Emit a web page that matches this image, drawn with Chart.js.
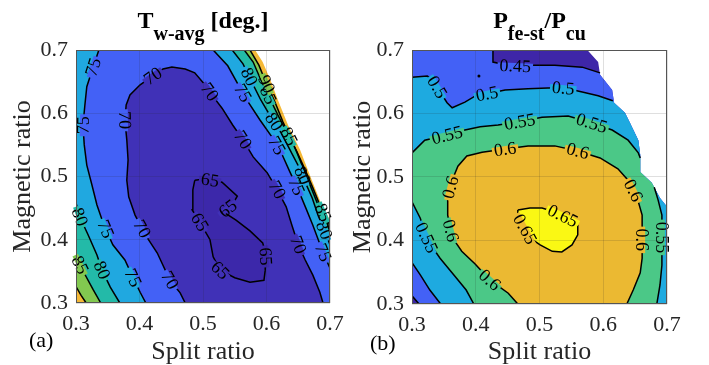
<!DOCTYPE html>
<html>
<head>
<meta charset="utf-8">
<script src="https://cdn.jsdelivr.net/npm/chart.js@4.4.1/dist/chart.umd.min.js"></script>
<style>
  html, body { margin: 0; padding: 0; background: #fff; }
  #wrap { position: relative; width: 709px; height: 365px; overflow: hidden; font-family: 'Liberation Serif', 'Times New Roman', serif; }
  canvas { position: absolute; top: 0; }
  #cA { left: 0; }
  #cB { left: 336px; }
  .ttl { position: absolute; top: 8px; font-size: 24px; line-height: 24px; font-weight: bold; text-align: center; color: #000; white-space: nowrap; }
  .ttl sub { font-size: 20px; position: relative; top: 12px; vertical-align: baseline; line-height: 0; }
  .tag { position: absolute; font-size: 22px; line-height: 22px; color: #000; }
</style>
</head>
<body>
<div id="wrap">
  <canvas id="cA" width="355" height="365"></canvas>
  <canvas id="cB" width="373" height="365"></canvas>
  <div class="ttl" style="left:76px;width:254px">T<sub>w-avg</sub> [deg.]</div>
  <div class="ttl" style="left:412px;width:255px">P<sub>fe-st</sub>/P<sub>cu</sub></div>
  <div class="tag" style="left:29px;top:329px">(a)</div>
  <div class="tag" style="left:370px;top:332px">(b)</div>
</div>
<script>
// axes
const xTicks = [0.3, 0.4, 0.5, 0.6, 0.7];
const yTicks = [0.3, 0.4, 0.5, 0.6, 0.7];
const tickLabels = ['0.3', '0.4', '0.5', '0.6', '0.7'];

// (a) winding temperature, contour lines as [split ratio, magnetic ratio]
const aEdge = [[0.582,0.7],[0.594,0.681],[0.606,0.653],[0.618,0.621],[0.634,0.581],[0.653,0.542],[0.673,0.49],[0.687,0.455],[0.7,0.431]];
const a90R = [[0.574,0.7],[0.588,0.676],[0.599,0.649],[0.612,0.621],[0.626,0.586],[0.645,0.545],[0.664,0.498],[0.680,0.458],[0.692,0.436],[0.7,0.423]];
const a85R = [[0.565,0.7],[0.579,0.681],[0.591,0.653],[0.604,0.626],[0.618,0.597],[0.634,0.566],[0.648,0.539],[0.661,0.51],[0.673,0.482],[0.684,0.455],[0.694,0.431],[0.7,0.412]];
const a80R = [[0.546,0.7],[0.563,0.678],[0.577,0.649],[0.591,0.621],[0.607,0.594],[0.623,0.569],[0.637,0.542],[0.650,0.517],[0.661,0.491],[0.672,0.466],[0.681,0.439],[0.691,0.415],[0.7,0.392]];
const a75R = [[0.516,0.7],[0.539,0.675],[0.555,0.646],[0.571,0.618],[0.590,0.589],[0.609,0.562],[0.624,0.536],[0.637,0.507],[0.650,0.479],[0.662,0.45],[0.673,0.423],[0.683,0.396],[0.692,0.373],[0.7,0.355]];
const a70 = [[0.472,0.3],[0.464,0.316],[0.448,0.336],[0.428,0.379],[0.409,0.408],[0.393,0.439],[0.383,0.468],[0.380,0.494],[0.382,0.526],[0.380,0.558],[0.377,0.589],[0.379,0.613],[0.385,0.629],[0.401,0.645],[0.421,0.659],[0.437,0.67],[0.451,0.673],[0.472,0.67],[0.487,0.664],[0.503,0.645],[0.514,0.629],[0.530,0.608],[0.547,0.581],[0.563,0.558],[0.579,0.531],[0.601,0.506],[0.617,0.479],[0.631,0.452],[0.640,0.423],[0.650,0.392],[0.661,0.368],[0.673,0.344],[0.684,0.317],[0.689,0.3]];
const a65 = [[0.487,0.494],[0.503,0.496],[0.530,0.491],[0.554,0.469],[0.546,0.455],[0.532,0.444],[0.552,0.431],[0.574,0.414],[0.594,0.395],[0.599,0.376],[0.598,0.352],[0.596,0.336],[0.574,0.333],[0.550,0.34],[0.527,0.352],[0.516,0.373],[0.511,0.4],[0.495,0.428],[0.483,0.447],[0.484,0.479],[0.487,0.494]];
const a75L = [[0.336,0.7],[0.327,0.673],[0.317,0.642],[0.314,0.613],[0.311,0.581],[0.313,0.55],[0.317,0.518],[0.325,0.487],[0.333,0.455],[0.344,0.423],[0.358,0.392],[0.377,0.368],[0.390,0.34],[0.401,0.317],[0.410,0.3]];
const a80L = [[0.3,0.458],[0.306,0.436],[0.319,0.408],[0.333,0.376],[0.341,0.352],[0.354,0.325],[0.369,0.3]];
const a85L = [[0.3,0.373],[0.313,0.347],[0.327,0.321],[0.339,0.3]];
const a90L = [[0.3,0.326],[0.308,0.312],[0.316,0.3]];

// (b) loss ratio
const bEdge = [[0.575,0.7],[0.592,0.681],[0.595,0.661],[0.614,0.637],[0.617,0.617],[0.634,0.601],[0.642,0.585],[0.655,0.558],[0.658,0.535],[0.658,0.508],[0.676,0.491],[0.689,0.467],[0.7,0.453]];
const b45T = [[0.427,0.7],[0.427,0.681],[0.441,0.678],[0.462,0.675],[0.488,0.676],[0.524,0.676],[0.567,0.673],[0.595,0.664]];
const b45L = [[0.3,0.313],[0.311,0.3]];
const b50T = [[0.3,0.657],[0.324,0.659],[0.333,0.653],[0.344,0.634],[0.355,0.617],[0.363,0.609],[0.383,0.618],[0.400,0.628],[0.422,0.632],[0.446,0.637],[0.482,0.639],[0.513,0.64],[0.540,0.64],[0.567,0.634],[0.592,0.628],[0.615,0.62]];
const b50L = [[0.3,0.365],[0.313,0.346],[0.328,0.322],[0.345,0.3]];
const b55T = [[0.3,0.538],[0.320,0.558],[0.355,0.566],[0.383,0.574],[0.407,0.579],[0.435,0.582],[0.469,0.587],[0.504,0.594],[0.545,0.596],[0.582,0.585],[0.614,0.574],[0.639,0.558],[0.655,0.538],[0.658,0.53]];
const b55R = [[0.680,0.484],[0.686,0.464],[0.692,0.44],[0.692,0.401],[0.692,0.361],[0.689,0.33],[0.684,0.3]];
const b55L = [[0.3,0.461],[0.313,0.435],[0.324,0.401],[0.344,0.372],[0.367,0.344],[0.385,0.322],[0.397,0.3]];
const b60 = [[0.466,0.3],[0.451,0.317],[0.422,0.338],[0.399,0.363],[0.378,0.383],[0.363,0.405],[0.356,0.44],[0.356,0.467],[0.363,0.495],[0.372,0.517],[0.386,0.533],[0.410,0.539],[0.446,0.544],[0.482,0.549],[0.524,0.549],[0.560,0.541],[0.595,0.53],[0.623,0.513],[0.639,0.495],[0.653,0.468],[0.661,0.44],[0.661,0.401],[0.661,0.372],[0.658,0.349],[0.647,0.322],[0.637,0.3]];
const b65 = [[0.466,0.448],[0.485,0.451],[0.504,0.451],[0.524,0.445],[0.545,0.435],[0.560,0.424],[0.560,0.409],[0.551,0.393],[0.535,0.382],[0.520,0.383],[0.501,0.393],[0.485,0.404],[0.474,0.424],[0.466,0.44],[0.466,0.448]];
const bDot = [[0.405,0.659]];

// level colours, lowest band first
const colorsA = ['rgb(60,40,170)', 'rgb(64,49,183)', 'rgb(67,97,246)', 'rgb(32,168,224)', 'rgb(35,186,168)', 'rgb(130,200,80)', 'rgb(245,185,55)'];
const colorsB = ['rgb(62,38,168)', 'rgb(67,97,246)', 'rgb(30,170,224)', 'rgb(75,200,135)', 'rgb(235,185,50)', 'rgb(250,248,20)'];

const F = "'Liberation Serif', 'Times New Roman', serif";
const ink = '#262626';

const rev = a => a.slice().reverse();
const toPts = a => a.map(([x, y]) => ({x, y}));
const fillSet = (pts, color) => ({data: toPts(pts), fill: 'shape', backgroundColor: color, borderWidth: 0, pointRadius: 0});
const lineSet = pts => ({data: toPts(pts), fill: false, borderColor: '#000', borderWidth: 1.5, pointRadius: 0});

// contour labels sit on a line; the gap behind them takes the fill colour there
function labelPlugin(items) {
  let bg = [];
  const place = (chart, it) => {
    const xs = chart.scales.x, ys = chart.scales.y, pts = it.line;
    const at = t => {
      t = Math.max(0, Math.min(pts.length - 1, t));
      const i = Math.min(Math.floor(t), pts.length - 2), f = t - i;
      return {
        x: xs.getPixelForValue(pts[i][0] + (pts[i + 1][0] - pts[i][0]) * f),
        y: ys.getPixelForValue(pts[i][1] + (pts[i + 1][1] - pts[i][1]) * f)
      };
    };
    const p = at(it.at), p0 = at(it.at - 0.5), p1 = at(it.at + 0.5);
    let a = Math.atan2(p1.y - p0.y, p1.x - p0.x);
    if (a > Math.PI / 2) a -= Math.PI;
    if (a <= -Math.PI / 2) a += Math.PI;
    return {x: p.x, y: p.y, a};
  };
  return {
    id: 'clabels',
    afterDatasetDraw(chart, args) {
      if (!chart.data.datasets[args.index].lastFill) return;
      const ctx = chart.ctx;
      bg = items.map(it => {
        const p = place(chart, it);
        const d = ctx.getImageData(Math.round(p.x - 3 * Math.sin(p.a)), Math.round(p.y + 3 * Math.cos(p.a)), 1, 1).data;
        return `rgb(${d[0]},${d[1]},${d[2]})`;
      });
    },
    afterDatasetsDraw(chart) {
      const ctx = chart.ctx;
      ctx.save();
      ctx.font = `18px ${F}`;
      ctx.textAlign = 'center';
      ctx.textBaseline = 'middle';
      items.forEach((it, k) => {
        const p = place(chart, it);
        const w = ctx.measureText(it.text).width;
        ctx.save();
        ctx.translate(p.x, p.y);
        ctx.rotate(p.a);
        ctx.fillStyle = bg[k] || '#fff';
        ctx.fillRect(-w / 2 - 2, -3, w + 4, 6);
        ctx.fillStyle = '#000';
        ctx.fillText(it.text, 0, 1);
        ctx.restore();
      });
      ctx.restore();
    }
  };
}

const boxPlugin = {
  id: 'box',
  afterDraw(chart) {
    const {ctx, chartArea: {left, top, right, bottom}} = chart;
    ctx.save();
    ctx.strokeStyle = '#555';
    ctx.lineWidth = 1;
    ctx.strokeRect(left + 0.5, top + 0.5, right - left - 1, bottom - top - 1);
    ctx.restore();
  }
};

function makeChart(id, paint, labels, padRight, xHeight, yTitlePad) {
  const datasets = paint.map((d, i) => Object.assign(d, {order: paint.length - i}));
  return new Chart(document.getElementById(id), {
    type: 'line',
    data: {datasets},
    options: {
      responsive: false,
      animation: false,
      events: [],
      layout: {padding: {top: 50, right: padRight, left: 0, bottom: 0}},
      plugins: {legend: {display: false}, tooltip: {enabled: false}},
      scales: {
        x: {
          type: 'linear', min: 0.3, max: 0.7,
          afterBuildTicks: s => { s.ticks = xTicks.map(v => ({value: v})); },
          afterFit: s => { s.height = xHeight; },
          grid: {color: 'rgba(38,38,38,0.15)', drawTicks: false, z: 1},
          border: {display: false},
          ticks: {padding: 8, color: ink, autoSkip: false, maxRotation: 0, font: {family: F, size: 22}, callback: (v, i) => tickLabels[i]},
          title: {display: true, text: 'Split ratio', color: ink, font: {family: F, size: 26, lineHeight: 1}, padding: {top: 0, bottom: 0}}
        },
        y: {
          type: 'linear', min: 0.3, max: 0.7,
          afterBuildTicks: s => { s.ticks = yTicks.map(v => ({value: v})); },
          afterFit: s => { s.width = 76; },
          grid: {color: 'rgba(38,38,38,0.15)', drawTicks: false, z: 1},
          border: {display: false},
          ticks: {padding: 8, color: ink, autoSkip: false, font: {family: F, size: 22}, callback: (v, i) => tickLabels[i]},
          title: {display: true, text: 'Magnetic ratio', color: ink, font: {family: F, size: 26, lineHeight: 1}, padding: {top: yTitlePad, bottom: 0}}
        }
      }
    },
    plugins: [labelPlugin(labels), boxPlugin]
  });
}

// (a): paint the sub-level sets from the hottest band down to the coolest
const lastA = fillSet(a65, colorsA[0]);
lastA.lastFill = true;
const paintA = [
  fillSet([[0.3, 0.3], [0.3, 0.7], ...aEdge, [0.7, 0.3]], colorsA[6]),
  fillSet([[0.3, 0.7], ...a90R, [0.7, 0.3], ...rev(a90L)], colorsA[5]),
  fillSet([[0.3, 0.7], ...a85R, [0.7, 0.3], ...rev(a85L)], colorsA[4]),
  fillSet([[0.3, 0.7], ...a80R, [0.7, 0.3], ...rev(a80L)], colorsA[3]),
  fillSet([...a75L, [0.7, 0.3], ...rev(a75R)], colorsA[2]),
  fillSet(a70, colorsA[1]),
  lastA,
  ...[a65, a70, a75L, a75R, a80L, a80R, a85L, a85R, a90L, a90R].map(lineSet)
];
const labelsA = [
  {line: a75L, at: 1, text: '75'}, {line: a75L, at: 4, text: '75'}, {line: a75L, at: 9.2, text: '75'}, {line: a75L, at: 12, text: '75'},
  {line: a80L, at: 1, text: '80'}, {line: a80L, at: 4, text: '80'}, {line: a85L, at: 0.5, text: '85'},
  {line: a70, at: 14, text: '70'}, {line: a70, at: 10, text: '70'}, {line: a70, at: 4.3, text: '70'}, {line: a70, at: 2, text: '70'},
  {line: a70, at: 19.7, text: '70'}, {line: a70, at: 23, text: '70'}, {line: a70, at: 26, text: '70'}, {line: a70, at: 29, text: '70'},
  {line: a65, at: 1.3, text: '65'}, {line: a65, at: 4.5, text: '65'}, {line: a65, at: 9.1, text: '65'}, {line: a65, at: 14, text: '65'}, {line: a65, at: 17, text: '65'},
  {line: a75R, at: 2.5, text: '75'}, {line: a75R, at: 5.5, text: '75'}, {line: a75R, at: 7.8, text: '75'}, {line: a75R, at: 11.7, text: '75'},
  {line: a80R, at: 1.7, text: '80'}, {line: a80R, at: 4.3, text: '80'}, {line: a80R, at: 7.6, text: '80'}, {line: a80R, at: 11, text: '80'},
  {line: a85R, at: 2.9, text: '85'}, {line: a85R, at: 5.1, text: '85'}, {line: a85R, at: 9.5, text: '85'},
  {line: a90R, at: 2.1, text: '90'}
];

// (b): paint the super-level sets from the lowest band up to the highest
const lastB = fillSet(b65, colorsB[5]);
lastB.lastFill = true;
const dotSet = {data: toPts(bDot), showLine: false, pointRadius: 1.5, pointBackgroundColor: '#000', pointBorderWidth: 0};
const paintB = [
  fillSet([[0.3, 0.3], [0.3, 0.7], ...bEdge, [0.7, 0.3]], colorsB[0]),
  fillSet([[0.3, 0.7], ...b45T, ...bEdge.slice(2), [0.7, 0.3], ...rev(b45L)], colorsB[1]),
  fillSet([...b50T, ...bEdge.slice(4), [0.7, 0.3], ...rev(b50L)], colorsB[2]),
  fillSet([...b55T, ...bEdge.slice(9, 11), ...b55R, ...rev(b55L)], colorsB[3]),
  fillSet(b60, colorsB[4]),
  lastB,
  ...[b45T, b45L, b50T, b50L, b55T, b55R, b55L, b60, b65].map(lineSet),
  dotSet
];
const labelsB = [
  {line: b45T, at: 3, text: '0.45'},
  {line: b50T, at: 2.6, text: '0.5'}, {line: b50T, at: 7.8, text: '0.5'}, {line: b50T, at: 11.9, text: '0.5'},
  {line: b55T, at: 2, text: '0.55'}, {line: b55T, at: 6, text: '0.55'}, {line: b55T, at: 9, text: '0.55'},
  {line: b55L, at: 1.9, text: '0.55'}, {line: b55R, at: 2.9, text: '0.55'},
  {line: b60, at: 12, text: '0.6'}, {line: b60, at: 15, text: '0.6'}, {line: b60, at: 7.6, text: '0.6'}, {line: b60, at: 5.3, text: '0.6'},
  {line: b60, at: 2, text: '0.6'}, {line: b60, at: 18.6, text: '0.6'}, {line: b60, at: 21, text: '0.6'},
  {line: b65, at: 3.6, text: '0.65'}, {line: b65, at: 11.7, text: '0.65'}
];

makeChart('cA', paintA, labelsA, 25, 62, 10);
makeChart('cB', paintB, labelsB, 42, 61, 14);
</script>
</body>
</html>
